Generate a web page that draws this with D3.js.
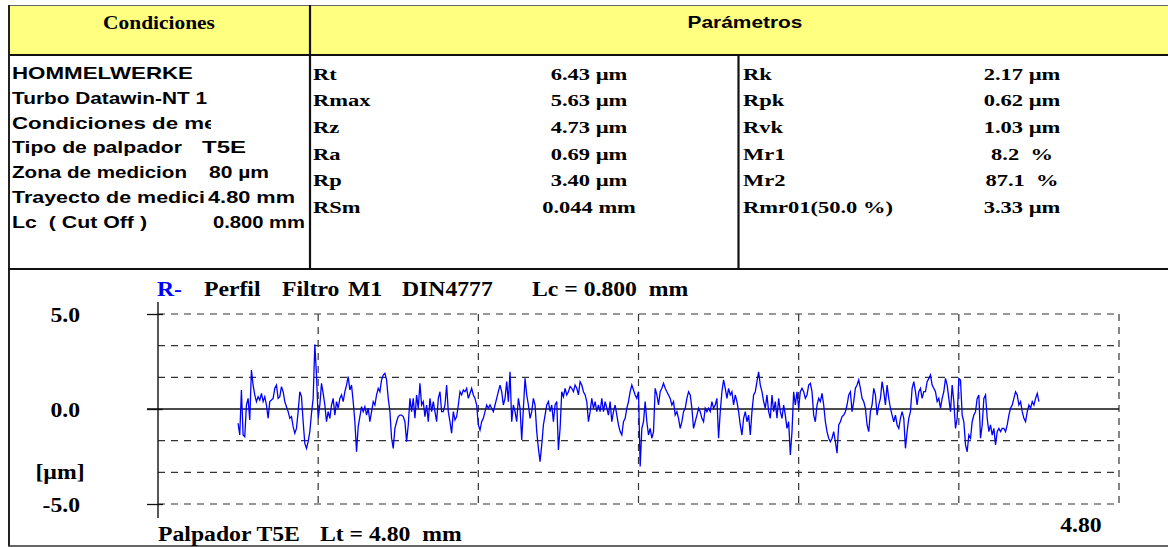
<!DOCTYPE html>
<html><head><meta charset="utf-8">
<script src="https://cdn.jsdelivr.net/npm/d3@7"></script>
<style>html,body{margin:0;padding:0;background:#fff;overflow:hidden} text{white-space:pre}</style>
</head><body><svg id="c" width="1168" height="547"></svg>
<script>
// ---------------- data ----------------
const headerTitles = ["Condiciones", "Parámetros"];
const conditionLabels = ["HOMMELWERKE", "Turbo Datawin-NT 1", "Condiciones de medicion", "Tipo de palpador", "Zona de medicion", "Trayecto de medici", "Lc  ( Cut Off )"];
const conditionValues = ["", "", "", "T5E", "80 µm", "4.80 mm", "0.800 mm"];
const paramNamesA = ["Rt", "Rmax", "Rz", "Ra", "Rp", "RSm"];
const paramValuesA = ["6.43 µm", "5.63 µm", "4.73 µm", "0.69 µm", "3.40 µm", "0.044 mm"];
const paramNamesB = ["Rk", "Rpk", "Rvk", "Mr1", "Mr2", "Rmr01(50.0 %)"];
const paramValuesB = ["2.17 µm", "0.62 µm", "1.03 µm", "8.2  %", "87.1  %", "3.33 µm"];
const chartTitleParts = ["R-", "Perfil", "Filtro", "M1", "DIN4777", "Lc = 0.800  mm"];
const chartFooterParts = ["Palpador T5E", "Lt = 4.80  mm"];
const yTickValues = [5, 0, -5];
const yGridValues = [5, 3.333, 1.667, -1.667, -3.333, -5];
const xGridValues = [0.8, 1.6, 2.4, 3.2, 4.0, 4.8];
const xDomainMm = [0, 4.8];
const yDomainUm = [-5, 5];
const yUnitLabel = "[µm]";
const xEndLabel = "4.80";
const profileStartMm = 0.40, profileEndMm = 4.40;
const profileUm = [
-0.75,-1.37,1.00,-1.37,-1.46,0.21,0.56,-0.58,2.05,1.26,
0.74,0.39,0.65,0.47,0.82,0.39,0.65,0.21,-0.49,0.39,
0.47,0.56,1.09,1.26,0.56,0.65,1.18,0.91,0.39,0.12,
-0.14,-0.49,-0.40,-0.93,-1.28,-1.02,-0.14,0.91,0.65,-0.67,
-1.81,-2.07,-1.72,-1.19,-0.23,0.56,3.40,1.79,-0.49,0.21,
1.35,0.82,0.21,-0.67,-0.14,-0.49,0.21,0.56,-0.32,0.39,
0.04,0.56,0.74,0.39,0.91,1.26,1.70,1.00,1.26,0.39,
-0.67,-2.25,-0.93,-0.40,0.12,-0.14,0.12,-0.32,0.04,-0.67,
-0.14,0.39,0.21,0.74,1.09,0.91,
1.53,1.79,1.88,1.53,0.56,-0.14,-1.54,-2.07,-1.02,-0.67,-0.40,-0.32,
-0.32,-0.40,-0.67,-1.72,-0.84,0.56,-0.14,0.56,-0.49,0.74,
0.04,1.35,0.21,0.39,-0.40,0.21,-0.67,0.56,-0.14,0.39,
-0.14,-0.67,0.56,0.91,-0.14,-0.14,0.21,1.26,-0.14,-0.67,
-1.28,-0.14,-0.58,-0.40,0.21,0.91,0.74,1.00,0.91,1.09,
0.56,0.82,1.09,0.74,0.56,0.21,-0.84,-1.11,-0.67,-0.49,
-0.14,0.21,0.04,0.21,0.04,-0.14,0.21,0.56,0.91,1.26,
0.91,0.21,0.56,1.44,0.39,1.96,-0.67,0.21,-0.14,-0.67,
0.56,0.04,-1.63,0.04,1.61,0.74,0.21,-0.49,-0.14,0.56,
0.21,-1.19,-2.07,-2.77,-1.89,-0.84,-0.32,0.21,0.39,-0.14,
0.21,-0.67,0.21,0.39,-2.16,-1.02,0.91,0.65,1.09,0.74,
0.91,1.18,1.09,0.91,1.26,1.09,0.74,1.44,1.26,0.91,
0.74,0.39,-0.67,-0.14,0.56,0.04,0.39,-0.14,0.21,-0.14,
0.56,-0.14,0.39,0.04,-0.32,0.39,-0.67,-0.14,0.21,-0.32,
-0.84,-1.19,-1.37,-0.67,-0.49,0.04,0.39,0.91,1.26,1.00,
0.74,0.56,0.91,-3.03,-1.02,-0.67,0.39,-0.67,-1.37,-1.02,
-1.54,-1.19,1.09,0.74,0.21,0.91,1.09,1.35,1.09,0.91,
0.74,0.56,0.21,0.39,-0.32,-0.14,-0.49,-1.02,-0.67,-0.14,
0.04,0.56,0.91,0.74,0.04,-1.02,-0.67,-0.32,0.04,-0.14,
-0.49,-0.67,0.04,-0.14,0.04,-0.14,0.39,0.04,0.21,0.56,
-1.54,-0.14,0.91,1.53,1.09,0.56,1.09,0.74,0.91,0.21,
0.74,0.39,-0.14,-0.84,-1.37,-0.49,-0.14,-0.67,-0.32,-1.37,
-0.14,0.74,0.91,1.44,1.96,1.26,0.91,0.39,0.04,0.74,
-0.14,-0.49,
0.74,-0.14,0.39,-0.49,0.56,-0.14,-0.49,0.21,-0.32,-1.02,
-0.67,-2.42,-1.19,0.91,0.21,0.91,0.04,0.91,1.09,0.91,
0.56,0.74,1.26,1.35,0.91,-0.32,-0.67,0.21,0.56,0.39,
0.82,0.21,-0.67,-1.19,-1.54,-1.72,-1.54,-1.19,-1.72,-2.33,
-0.84,-0.67,-0.40,-0.32,-0.14,0.21,0.74,0.91,-0.14,0.39,
1.09,1.26,1.53,1.09,0.56,0.39,0.04,-0.84,-1.19,-0.14,
0.21,1.09,0.74,-0.32,0.21,0.56,1.44,0.91,0.21,1.26,
0.56,0.04,-0.32,-0.67,-0.32,-0.84,-1.02,-0.49,-0.14,-0.49,
-2.07,-1.19,-0.49,-0.14,1.09,1.44,0.91,0.21,0.91,1.09,
0.56,0.91,0.91,1.44,1.61,1.79,1.26,1.09,0.91,0.39,
0.56,0.04,0.56,0.91,1.61,1.26,0.56,-0.14,1.26,0.39,
-1.02,-0.49,1.61,1.53,-0.32,-0.67,-1.89,-2.25,-1.37,-1.54,
-0.67,-0.32,-0.14,0.56,0.74,-1.54,-0.84,0.56,0.74,-0.49,
-1.19,-0.84,-1.37,-1.02,-1.89,-1.19,-1.02,-1.19,-1.02,-1.02,
-1.19,-0.84,-0.32,0.04,0.21,0.56,0.91,0.74,0.21,0.39,
-0.14,-0.49,-0.67,-0.14,0.21,0.04,0.39,0.21,0.56,0.82,
0.39
];

// ---------------- layout / styles ----------------
const W = 1168, H = 547;
const frame = {left: 8, top: 5, headBottom: 55, colDiv: 310, midDiv: 738.5, panelBottom: 269, bottom: 546};
const plot = {x0: 158, x1: 1119, yTop: 314, yBot: 504};
const yellow = "#FFFF80", ink = "#000", gridInk = "#333", profileBlue = "#0000FF";
const SANS = "'Liberation Sans', Arial, sans-serif";
const SERIF = "'Liberation Serif', 'Times New Roman', serif";
const styles = {
  headSerif: {family: SERIF, weight: "bold", size: 18, sample: headerTitles[0], target: 112},
  headSans: {family: SANS, weight: "bold", size: 17, sample: headerTitles[1], target: 115},
  cond: {family: SANS, weight: "bold", size: 17, sample: conditionLabels[0], target: 181},
  param: {family: SERIF, weight: "bold", size: 17, sample: paramNamesB[5], target: 150},
  chart: {family: SERIF, weight: "bold", size: 20, sample: chartFooterParts[0], target: 142}
};
// measured widths of individual strings (layout)
const condLabelWidths = [181, 195, null, 170, 175, 193, 135];
const condValueX = [0, 0, 0, 202, 209, 208, 213];
const condValueWidths = [0, 0, 0, 44, 60, 87, 92];

const svg = d3.select("#c");
svg.append("rect").attr("width", W).attr("height", H).attr("fill", "#fff");

// calibrate horizontal stretch of each text style
Object.values(styles).forEach(st => {
  const t = svg.append("text").attr("font-family", st.family).attr("font-weight", st.weight)
    .attr("font-size", st.size).text(st.sample);
  const w = t.node().getComputedTextLength();
  t.remove();
  st.sx = w > 0 ? st.target / w : 1;
});

function txt(g, str, x, y, st, anchor = "start", fill = ink, width = null) {
  const t = g.append("text")
    .attr("text-anchor", anchor)
    .attr("font-family", st.family).attr("font-weight", st.weight).attr("font-size", st.size)
    .attr("fill", fill).text(str);
  if (width) {
    t.attr("x", x).attr("y", y).attr("textLength", width).attr("lengthAdjust", "spacingAndGlyphs");
  } else {
    t.attr("transform", `translate(${x},${y}) scale(${st.sx},1)`);
  }
  return t;
}

// ---------------- table frame ----------------
const frameG = svg.append("g");
frameG.append("rect").attr("x", frame.left).attr("y", frame.top).attr("width", W - frame.left + 2)
  .attr("height", frame.headBottom - frame.top).attr("fill", yellow);
frameG.append("line").attr("x1", frame.left).attr("x2", W).attr("y1", frame.top + 0.5).attr("y2", frame.top + 0.5)
  .attr("stroke", "#666").attr("stroke-width", 1);
frameG.append("line").attr("x1", frame.left).attr("x2", W).attr("y1", frame.headBottom).attr("y2", frame.headBottom)
  .attr("stroke", "#111").attr("stroke-width", 2.2);
frameG.append("line").attr("x1", frame.left + 1).attr("x2", frame.left + 1).attr("y1", frame.top).attr("y2", frame.bottom)
  .attr("stroke", "#222").attr("stroke-width", 2);
frameG.append("line").attr("x1", frame.colDiv).attr("x2", frame.colDiv).attr("y1", frame.top).attr("y2", frame.panelBottom)
  .attr("stroke", "#111").attr("stroke-width", 2.2);
frameG.append("line").attr("x1", frame.midDiv).attr("x2", frame.midDiv).attr("y1", frame.headBottom).attr("y2", frame.panelBottom)
  .attr("stroke", "#111").attr("stroke-width", 2.2);
frameG.append("line").attr("x1", frame.left).attr("x2", W).attr("y1", frame.panelBottom).attr("y2", frame.panelBottom)
  .attr("stroke", "#111").attr("stroke-width", 2.2);
frameG.append("line").attr("x1", frame.left).attr("x2", W).attr("y1", frame.bottom).attr("y2", frame.bottom)
  .attr("stroke", "#333").attr("stroke-width", 1.5);

// headers
txt(svg, headerTitles[0], (frame.left + frame.colDiv) / 2, 29, styles.headSerif, "middle");
txt(svg, headerTitles[1], 745, 28, styles.headSans, "middle");

// conditions
const defs = svg.append("defs");
defs.append("clipPath").attr("id", "condClip").append("rect")
  .attr("x", frame.left).attr("y", frame.headBottom).attr("width", 211 - frame.left).attr("height", 212);
const condLabelG = svg.append("g").attr("clip-path", "url(#condClip)");
const condY = d3.scaleLinear().domain([0, conditionLabels.length - 1]).range([79, 227.5]);
conditionLabels.forEach((s, i) => txt(condLabelG, s, 12, condY(i), styles.cond, "start", ink, condLabelWidths[i]));
conditionValues.forEach((s, i) => { if (s) txt(svg, s, condValueX[i], condY(i), styles.cond, "start", ink, condValueWidths[i]); });

// parameters
const paramY = d3.scaleLinear().domain([0, paramNamesA.length - 1]).range([79.5, 213]);
paramNamesA.forEach((s, i) => txt(svg, s, 313, paramY(i), styles.param));
paramValuesA.forEach((s, i) => txt(svg, s, 589, paramY(i), styles.param, "middle"));
paramNamesB.forEach((s, i) => txt(svg, s, 743, paramY(i), styles.param));
paramValuesB.forEach((s, i) => txt(svg, s, 1022, paramY(i), styles.param, "middle"));

// ---------------- chart ----------------
const x = d3.scaleLinear().domain(xDomainMm).range([plot.x0, plot.x1]);
const y = d3.scaleLinear().domain(yDomainUm).range([plot.yBot, plot.yTop]);
const chartG = svg.append("g");

// dashed horizontal grid
chartG.selectAll(".hg").data(yGridValues).enter().append("line")
  .attr("x1", x(0)).attr("x2", x(4.8)).attr("y1", d => y(d)).attr("y2", d => y(d))
  .attr("stroke", gridInk).attr("stroke-width", 1.2).attr("stroke-dasharray", "7,6");
// dashed vertical grid
chartG.selectAll(".vg").data(xGridValues).enter().append("line")
  .attr("x1", d => x(d)).attr("x2", d => x(d)).attr("y1", y(5)).attr("y2", y(-5))
  .attr("stroke", gridInk).attr("stroke-width", 1.2).attr("stroke-dasharray", "7,6");
// zero line
chartG.append("line").attr("x1", x(0) - 11).attr("x2", x(4.8)).attr("y1", y(0)).attr("y2", y(0))
  .attr("stroke", "#111").attr("stroke-width", 1.3);

// y axis
const yAxis = d3.axisLeft(y).tickValues(yTickValues).tickSize(11).tickSizeOuter(0).tickFormat(() => "");
const yAxisG = chartG.append("g").attr("transform", `translate(${plot.x0},0)`).call(yAxis);
yAxisG.select(".domain").remove();
yAxisG.selectAll(".tick text").remove();
yAxisG.selectAll(".tick line").attr("x1", 5).attr("stroke", "#111").attr("stroke-width", 1.3);
yAxisG.selectAll(".tick").each(function (d) {
  txt(d3.select(this), d.toFixed(1), -78, 7, styles.chart, "end");
});
chartG.append("line").attr("x1", plot.x0).attr("x2", plot.x0).attr("y1", y(5) - 12).attr("y2", y(-5) + 14)
  .attr("stroke", "#111").attr("stroke-width", 1.4);
txt(chartG, yUnitLabel, 60, 479, styles.chart, "middle");

// profile
const n = profileUm.length;
const pos = i => profileStartMm + i * (profileEndMm - profileStartMm) / (n - 1);
const line = d3.line().x((d, i) => x(pos(i))).y(d => y(d));
chartG.append("path").datum(profileUm).attr("d", line).attr("fill", "none")
  .attr("stroke", profileBlue).attr("stroke-width", 1.3).attr("stroke-linejoin", "miter");

// titles
const titleX = [157, 204, 282, 348, 402, 532];
chartTitleParts.forEach((s, i) => txt(chartG, s, titleX[i], 296, styles.chart, "start", i === 0 ? profileBlue : ink));
const footX = [158, 320];
chartFooterParts.forEach((s, i) => txt(chartG, s, footX[i], 541, styles.chart));
txt(chartG, xEndLabel, 1081, 532, styles.chart, "middle");
</script>
</body></html>
